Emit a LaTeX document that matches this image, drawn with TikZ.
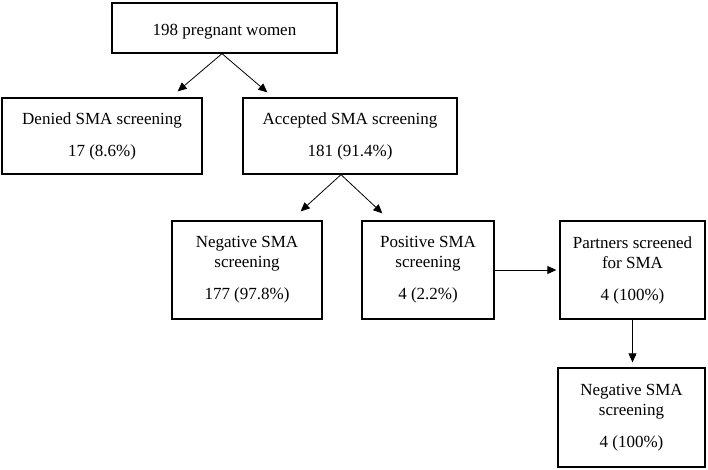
\documentclass[tikz,border=0pt]{standalone}
\usepackage{fontspec}
\setmainfont{Liberation Serif}
\usetikzlibrary{arrows.meta,positioning,calc}

\begin{document}
\begin{tikzpicture}[
    x=1pt, y=-1pt,
    box/.style={draw, line width=1.3pt, align=center, inner sep=0pt,
        font=\fontsize{17}{20}\selectfont},
    arrow/.style={-{Triangle[length=9pt,width=8pt]}, line width=0.8pt},
]
    \useasboundingbox[fill=white] (0,0) rectangle (708,470);

    \node[box, minimum width=225pt, minimum height=50pt, text height=19pt, text depth=4pt] (women) at (224.5,28) {198 pregnant women};
    \node[box, minimum width=200pt, minimum height=76pt] (denied) at (102,136) {Denied SMA screening\\[12pt]17 (8.6\%)};
    \node[box, minimum width=214pt, minimum height=76pt] (accepted) at (350,136) {Accepted SMA screening\\[12pt]181 (91.4\%)};
    \node[box, minimum width=150pt, minimum height=98pt] (negative) at (247,270) {Negative SMA\\screening\\[12pt]177 (97.8\%)};
    \node[box, minimum width=132pt, minimum height=98pt] (positive) at (428,270) {Positive SMA\\screening\\[12pt]4 (2.2\%)};
    \node[box, minimum width=145pt, minimum height=98pt] (partners) at (632.5,270) {Partners screened\\for SMA\\[12pt]4 (100\%)};
    \node[box, minimum width=147pt, minimum height=99pt] (partnerneg) at (631.5,417.5) {Negative SMA\\screening\\[12pt]4 (100\%)};

    % arrow ends stop a little above the boxes
    \coordinate (toDenied) at ($(denied.north east)+(-25,-6)$);
    \coordinate (toAccepted) at ($(accepted.north west)+(25,-5)$);
    \coordinate (toNegative) at ($(negative.north east)+(-22,-9)$);
    \coordinate (toPositive) at ($(positive.north west)+(21,-7)$);

    \draw[arrow] ($(women.south)+(-2.5,0)$) -- (toDenied);
    \draw[arrow] ($(women.south)+(-2.5,0)$) -- (toAccepted);
    \draw[arrow] ($(accepted.south)+(-9,0)$) -- (toNegative);
    \draw[arrow] ($(accepted.south)+(-9,0)$) -- (toPositive);
    \draw[arrow, shorten >=3pt] (positive.east) -- (partners.west);
    \draw[arrow, shorten >=5pt] (partners.south) -- (partners.south |- partnerneg.north);
\end{tikzpicture}
\end{document}
